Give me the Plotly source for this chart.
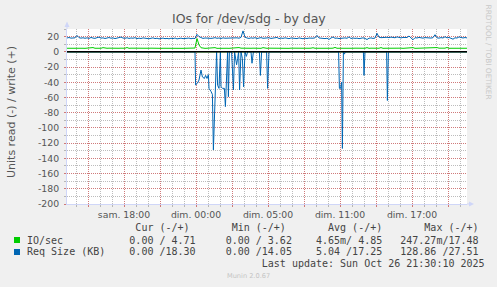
import plotly.graph_objects as go

W, H = 497, 287
PL, PR, PT, PB = 67, 467, 29, 204  # plot box in pixels

# ---- data -------------------------------------------------------------
# time axis: minutes relative to "dim. 00:00" (real elapsed minutes)
T0, STEP = -645, 10
X_RANGE = [-645, 1355]
Y_RANGE = [-200, 30]

req_write = [
    18.2, 18.8, 18.0, 18.6, 18.4, 21.5, 18.6, 18.0, 18.5, 17.8,
    18.4, 17.6, 18.9, 18.1, 17.7, 18.6, 19.3, 18.0, 18.4, 17.5,
    18.2, 18.8, 17.9, 18.3, 17.4, 18.0, 18.7, 19.4, 18.1, 17.8,
    18.5, 17.6, 18.2, 17.9, 18.6, 17.3, 18.0, 17.5, 18.3, 17.7,
    18.0, 17.2, 17.8, 18.4, 17.4, 17.9, 17.0, 17.6, 18.1, 17.3,
    17.7, 17.1, 17.9, 17.4, 18.2, 17.0, 17.6, 18.0, 17.3, 17.8,
    17.5, 18.1, 17.2, 17.8, 17.4, 23.0, 20.0, 18.3, 17.6, 18.2,
    17.9, 18.5, 17.7, 18.0, 18.6, 17.8, 18.2, 17.5, 18.4, 17.9,
    18.1, 17.6, 18.3, 17.8, 18.0, 18.4, 17.9, 19.0, 27.5, 19.2,
    18.2, 17.6, 18.4, 17.9, 18.6, 17.5, 18.1, 18.7, 17.8, 18.3,
    17.9, 18.5, 17.6, 18.2, 17.8, 18.9, 17.4, 18.1, 17.7, 18.4,
    17.9, 17.3, 18.2, 17.6, 18.0, 17.4, 18.3, 17.8, 17.2, 18.0,
    17.5, 18.1, 17.7, 17.9, 18.4, 21.5, 18.2, 17.6, 18.0, 17.4,
    17.9, 16.3, 18.2, 19.5, 17.8, 18.1, 17.4, 18.0, 17.6, 18.3,
    17.8, 19.6, 17.5, 18.2, 17.7, 18.0, 17.3, 17.9, 18.4, 17.6,
    16.2, 17.9, 18.3, 17.6, 18.1, 24.3, 19.2, 18.6, 19.0, 18.8,
    19.1, 18.7, 19.3, 18.9, 18.5, 19.6, 18.7, 18.3, 18.9, 18.4,
    18.8, 20.8, 18.1, 15.8, 18.6, 18.2, 18.9, 18.4, 18.0, 18.7,
    18.3, 18.9, 18.1, 18.6, 22.5, 18.4, 18.0, 18.7, 18.2, 19.8,
    18.4, 18.9, 17.6, 16.6, 18.5, 18.1, 19.6, 18.6, 18.2, 18.8, 18.3,
]

io_write = [
    4.7, 4.8, 4.6, 4.7, 4.9, 4.7, 4.6, 4.8, 4.7, 4.6,
    4.7, 4.8, 4.6, 5.6, 4.7, 4.6, 4.8, 4.7, 5.5, 4.6,
    4.7, 4.8, 4.6, 4.7, 4.9, 4.6, 4.7, 4.8, 4.6, 4.7,
    5.7, 4.6, 4.8, 4.7, 4.6, 4.7, 4.8, 4.6, 4.7, 4.8,
    4.6, 4.7, 4.8, 4.6, 4.7, 4.5, 4.8, 4.6, 4.7, 4.6,
    5.4, 4.7, 4.6, 4.8, 4.7, 4.6, 4.8, 4.7, 4.6, 4.7,
    4.8, 4.6, 4.7, 4.6, 5.0, 17.5, 9.0, 5.4, 4.8, 4.6,
    4.7, 4.8, 4.6, 4.7, 5.5, 4.6, 4.8, 4.7, 4.6, 4.8,
    4.7, 4.6, 4.8, 4.7, 4.6, 4.7, 5.6, 4.8, 4.6, 4.7,
    4.8, 4.6, 4.7, 4.8, 4.6, 4.7, 4.8, 4.6, 5.5, 4.7,
    4.6, 4.8, 4.7, 4.6, 4.7, 4.8, 4.6, 4.7, 4.8, 4.6,
    4.7, 4.6, 4.8, 4.7, 4.6, 4.7, 4.8, 4.6, 4.7, 4.8,
    4.6, 4.7, 4.8, 5.4, 4.7, 4.6, 4.8, 4.7, 4.6, 4.7,
    4.8, 4.6, 4.7, 4.8, 5.8, 4.7, 4.6, 4.8, 4.7, 4.6,
    4.7, 4.8, 4.6, 4.7, 4.8, 4.6, 4.7, 4.8, 4.6, 4.7,
    5.5, 4.6, 4.8, 4.7, 4.6, 4.8, 4.7, 5.6, 4.6, 4.7,
    4.8, 4.6, 4.7, 4.8, 4.6, 5.4, 4.7, 4.8, 4.6, 4.7,
    4.8, 4.6, 4.7, 5.5, 4.6, 4.7, 4.8, 4.6, 4.7, 4.8,
    4.6, 4.7, 4.8, 4.6, 4.7, 5.6, 4.8, 4.6, 4.7, 4.8,
    5.7, 4.6, 4.7, 4.8, 4.6, 4.7, 4.8, 4.6, 4.7, 4.8, 4.7,
]

# read side (drawn negative): sparse samples, zero elsewhere
req_read_t = [-645, -5, -2, 8, 15, 25, 32, 42, 48, 55, 62, 65, 75, 82, 87, 93, 98,
              103, 108, 115, 122, 125, 133, 142, 147, 153, 158, 162, 167, 178, 187,
              193, 203, 208, 213, 218, 225, 232, 238, 245, 252, 258, 275, 280, 287,
              317, 322, 328, 353, 358, 365, 713, 717, 723, 728, 732, 737, 742, 747,
              837, 840, 845, 953, 957, 962, 1355]
req_read_v = [0, 0, -43.6, -41, -37, -24, -33, -35, -31, -35, -30, -48, -52, -56, -128.86, -78, -50,
              0, -44, -48, 0, -46, -48, -48, -72, -17, 0, -59, 0, 0, -50,
              0, -17, -9, 0, -50, 0, -9, -46, 0, -6, 0, 0, -15, 0,
              0, -31, 0, 0, -48, 0, 0, -48, -48, -40, -127, 0, -3, 0,
              0, -31, 0, 0, -64, 0, 0]

io_read_t = [-645, 82, 87, 93, 1355]
io_read_v = [0, 0, -0.247, 0, 0]

x_tick_vals = [-540, -360, -180, 0, 180, 360, 540, 720, 900, 1080, 1260]
x_tick_text = ["", "sam. 18:00", "", "dim. 00:00", "", "dim. 05:00", "",
               "dim. 11:00", "", "dim. 17:00", ""]
y_tick_vals = [-200, -180, -160, -140, -120, -100, -80, -60, -40, -20, 0, 20]
y_tick_text = ["-200", "-180", "-160", "-140", "-120", "-100", "-80", "-60",
               "-40", "-20", "0", "20"]

legend_names = ["IO/sec", "Req Size (KB)"]
legend_colors = ["#00CC00", "#0066B3"]
stat_headers = ["Cur (-/+)", "Min (-/+)", "Avg (-/+)", "Max (-/+)"]
stat_cur = ["0.00 / 4.71", "0.00 /18.30"]
stat_min = ["0.00 / 3.62", "0.00 /14.05"]
stat_avg = ["4.65m/ 4.85", "5.04 /17.25"]
stat_max = ["247.27m/17.48", "128.86 /27.51"]
last_update = "Last update: Sun Oct 26 21:30:10 2025"

# ---- helpers ----------------------------------------------------------
def xp(px):
    return (px - PL) / (PR - PL)

def yp(py):
    return (PB - py) / (PB - PT)

def place(pieces):
    s = ""
    for col, txt in pieces:
        if len(s) < col:
            s += " " * (col - len(s))
        s += txt
    return s.replace(" ", "\u00a0")

times = [T0 + STEP * k for k in range(len(req_write))]

fig = go.Figure()
fig.add_trace(go.Scatter(x=io_read_t, y=io_read_v, mode="lines",
                         line=dict(color=legend_colors[0], width=1), hoverinfo="skip"))
fig.add_trace(go.Scatter(x=times, y=io_write, mode="lines",
                         line=dict(color=legend_colors[0], width=1), hoverinfo="skip"))
fig.add_trace(go.Scatter(x=req_read_t, y=req_read_v, mode="lines",
                         line=dict(color=legend_colors[1], width=1), hoverinfo="skip"))
fig.add_trace(go.Scatter(x=times, y=req_write, mode="lines",
                         line=dict(color=legend_colors[1], width=1), hoverinfo="skip"))

MAJ = "rgba(222,79,79,0.6)"
MIN = "rgba(143,143,143,0.6)"
DASH = "1px,1px"
AXC = "#CFD6F8"
TXT = "#555555"

fig.update_xaxes(range=X_RANGE, tickmode="array", tickvals=x_tick_vals, ticktext=x_tick_text,
                 showgrid=True, gridcolor=MAJ, griddash=DASH, gridwidth=1,
                 ticks="outside", ticklen=2, tickcolor=MAJ,
                 minor=dict(tick0=0, dtick=60, showgrid=True, gridcolor=MIN, griddash=DASH,
                            ticks="outside", ticklen=2, tickcolor=MIN),
                 showline=True, linecolor=AXC, linewidth=1, zeroline=False,
                 tickfont=dict(family="DejaVu Sans", size=9.3, color=TXT), fixedrange=True)
fig.update_yaxes(range=Y_RANGE, tickmode="array", tickvals=y_tick_vals, ticktext=y_tick_text,
                 showgrid=True, gridcolor=MAJ, griddash=DASH, gridwidth=1,
                 ticks="outside", ticklen=2, tickcolor=MAJ,
                 minor=dict(tick0=0, dtick=10, showgrid=True, gridcolor=MIN, griddash=DASH,
                            ticks="outside", ticklen=2, tickcolor=MIN),
                 showline=True, linecolor=AXC, linewidth=1, zeroline=False,
                 ticklabelstandoff=3,
                 tickfont=dict(family="DejaVu Sans", size=9.3, color=TXT), fixedrange=True)

shapes = [
    # zero line
    dict(type="line", xref="paper", yref="y", x0=0, x1=1, y0=0, y1=0,
         line=dict(color="#000000", width=1.5), layer="above"),
    # axis arrows
    dict(type="path", xref="paper", yref="paper",
         path=f"M {xp(64.5)} {yp(27)} L {xp(69.5)} {yp(27)} L {xp(67)} {yp(21.5)} Z",
         fillcolor=AXC, line=dict(width=0)),
    dict(type="path", xref="paper", yref="paper",
         path=f"M {xp(469)} {yp(201.5)} L {xp(469)} {yp(206.5)} L {xp(474)} {yp(204)} Z",
         fillcolor=AXC, line=dict(width=0)),
    dict(type="line", xref="paper", yref="paper", x0=xp(67), x1=xp(67), y0=yp(29), y1=yp(26),
         line=dict(color=AXC, width=1)),
    dict(type="line", xref="paper", yref="paper", x0=xp(467), x1=xp(469), y0=yp(204), y1=yp(204),
         line=dict(color=AXC, width=1)),
]

ann = []
mono = dict(family="DejaVu Sans Mono", size=10, color="#444444")
X0 = 26.3 - 1
ann.append(dict(text=place(list(zip([18, 34, 50, 66], stat_headers))),
                x=xp(X0), y=yp(227.3)))
for i, name in enumerate(legend_names):
    row = place([(0, name), (17, stat_cur[i]), (33, stat_min[i]),
                 (48, stat_avg[i]), (62, stat_max[i])])
    ann.append(dict(text=row, x=xp(X0), y=yp(240 + 11.7 * i)))
    shapes.append(dict(type="rect", xref="paper", yref="paper",
                       x0=xp(14), x1=xp(20), y0=yp(237 + 12 * i), y1=yp(243 + 12 * i),
                       fillcolor=legend_colors[i], line=dict(width=0)))
ann.append(dict(text=place([(39, last_update)]), x=xp(X0), y=yp(263.3)))
for a in ann:
    a.update(xref="paper", yref="paper", xanchor="left", yanchor="middle",
             showarrow=False, font=mono)

ann.append(dict(text="IOs for /dev/sdg - by day", xref="paper", yref="paper",
                x=xp(248.5), y=yp(18.5), xanchor="center", yanchor="middle", showarrow=False,
                font=dict(family="DejaVu Sans", size=12.5, color=TXT)))
ann.append(dict(text="Units read (-) / write (+)", xref="paper", yref="paper",
                x=xp(11), y=yp(112), xanchor="center", yanchor="middle", showarrow=False,
                textangle=-90, font=dict(family="DejaVu Sans", size=11, color=TXT)))
ann.append(dict(text="RRDTOOL / TOBI OETIKER", xref="paper", yref="paper",
                x=xp(488.5), y=yp(52), xanchor="center", yanchor="middle", showarrow=False,
                textangle=90, font=dict(family="DejaVu Sans", size=7.4, color="#C8C8C8")))
ann.append(dict(text="Munin 2.0.67", xref="paper", yref="paper",
                x=xp(248.5), y=yp(276), xanchor="center", yanchor="middle", showarrow=False,
                font=dict(family="DejaVu Sans", size=6.6, color="#C4C4C4")))

fig.update_layout(width=W, height=H, autosize=False,
                  margin=dict(l=PL, r=W - PR, t=PT, b=H - PB, pad=0),
                  paper_bgcolor="#F0F0F0", plot_bgcolor="#FFFFFF",
                  showlegend=False, shapes=shapes, annotations=ann)

fig.write_html("out.html", config={"displayModeBar": False, "staticPlot": True})
